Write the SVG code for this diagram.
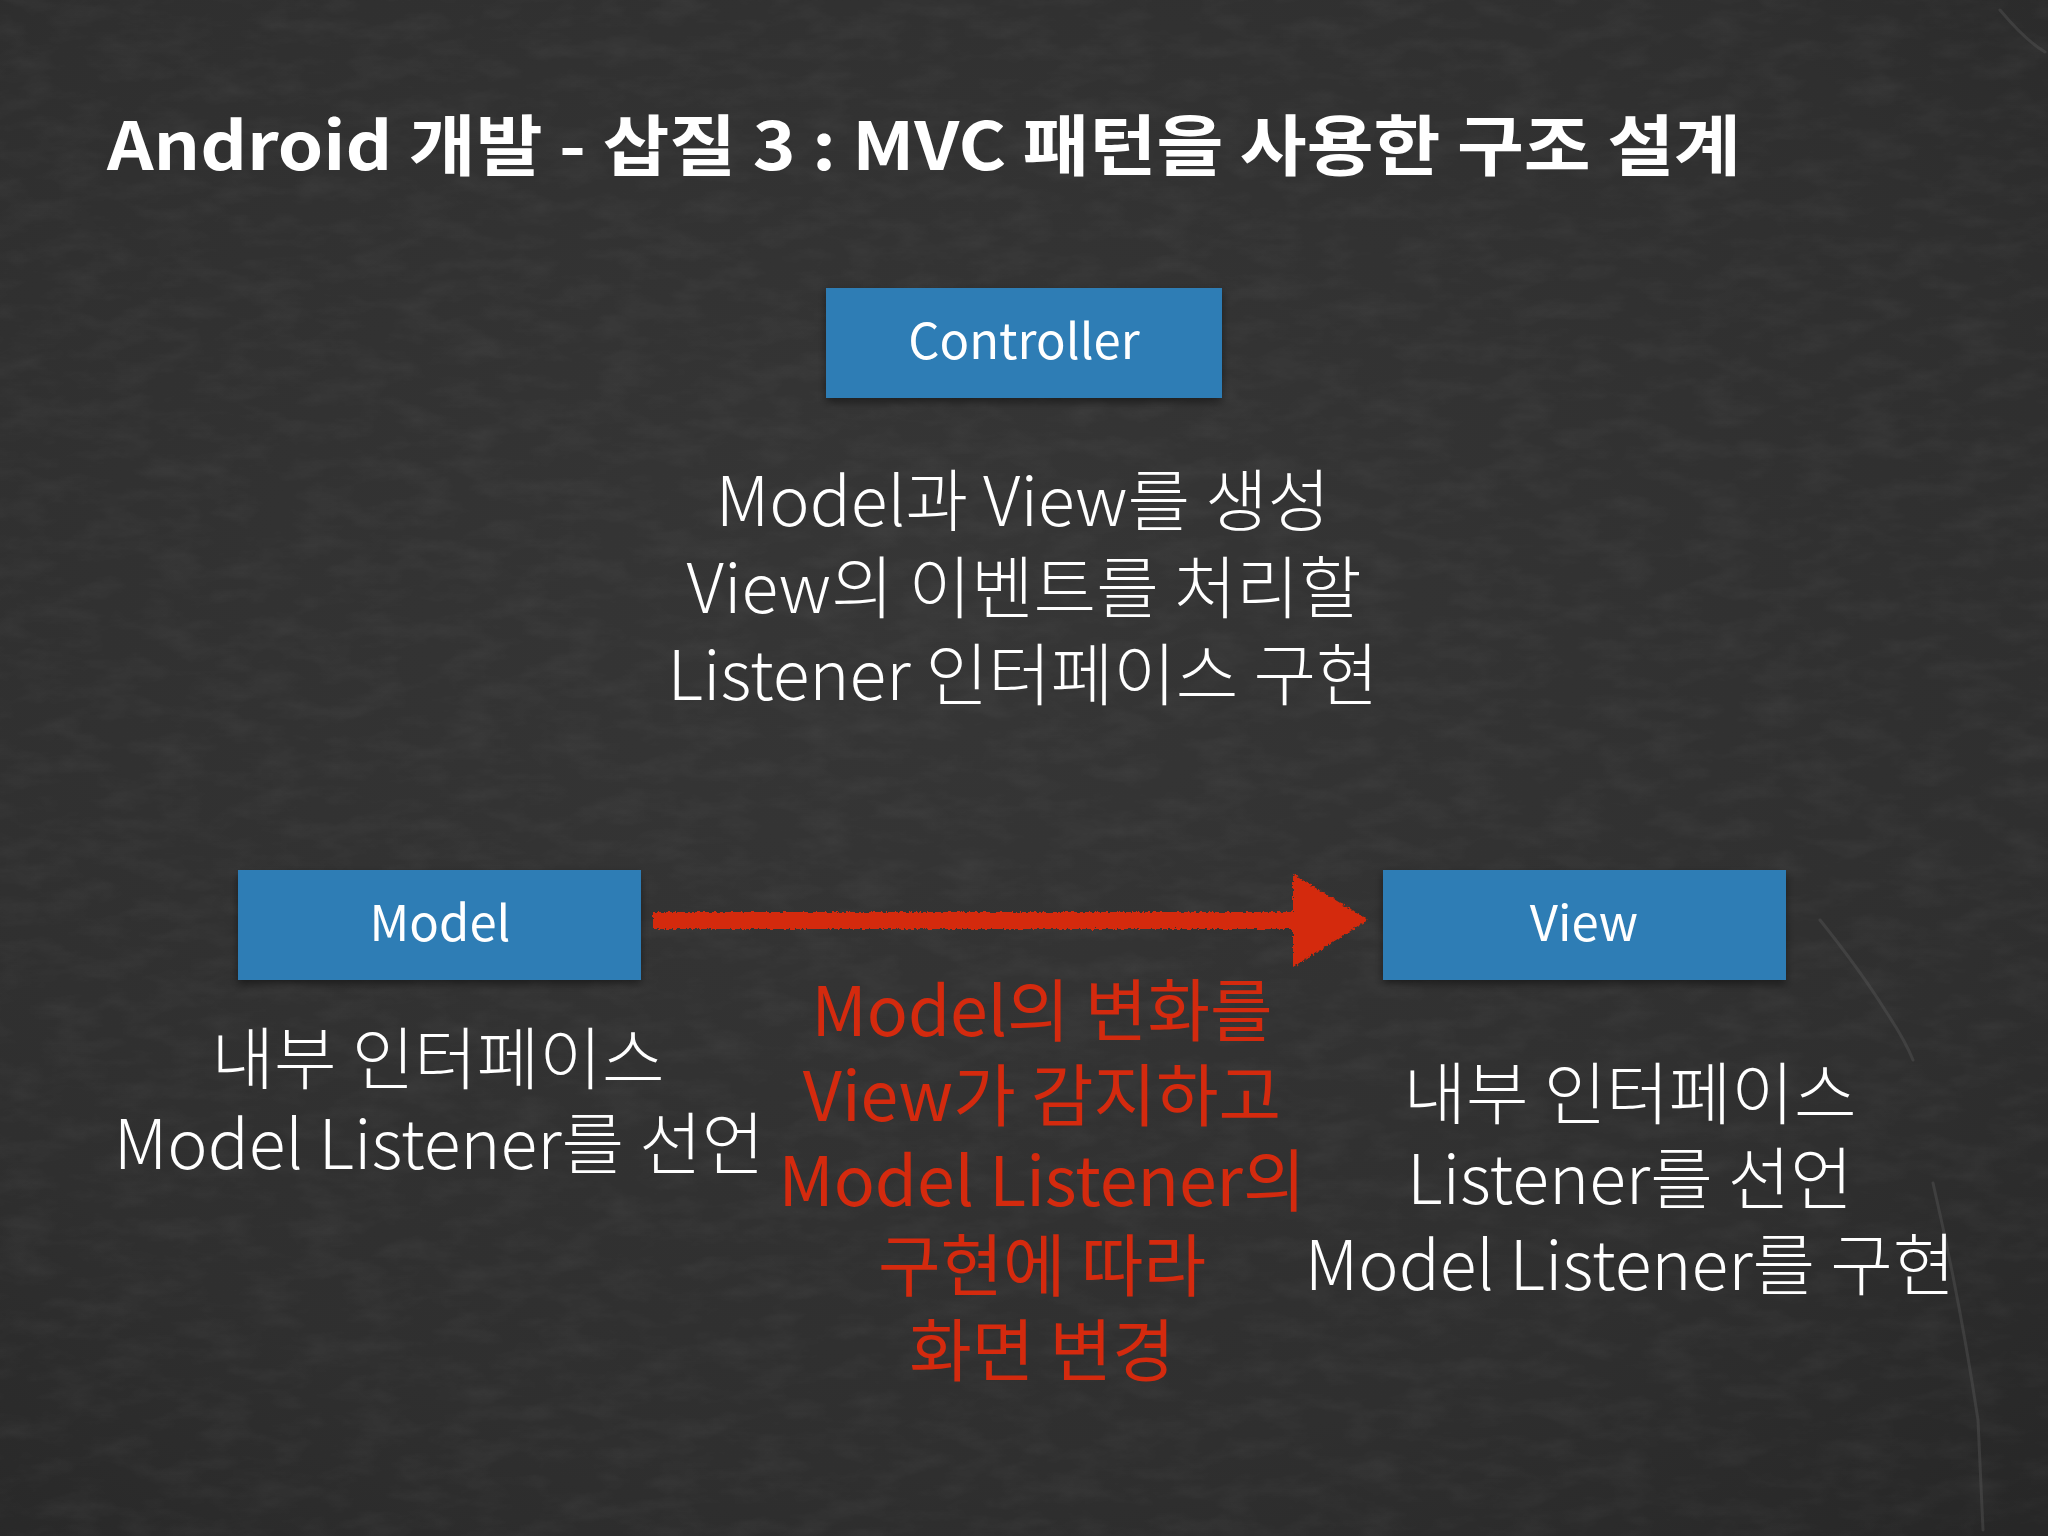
<svg xmlns="http://www.w3.org/2000/svg" width="2048" height="1536" viewBox="0 0 2048 1536">
  <defs>
    <radialGradient id="bgGrad" cx="0.45" cy="0.4" r="0.8">
      <stop offset="0" stop-color="#363636"/>
      <stop offset="0.7" stop-color="#2f2f2f"/>
      <stop offset="1" stop-color="#272727"/>
    </radialGradient>
    <filter id="noise" x="0" y="0" width="100%" height="100%">
      <feTurbulence type="fractalNoise" baseFrequency="0.02 0.05" numOctaves="4" seed="7" result="t"/>
      <feColorMatrix in="t" type="matrix" values="0 0 0 0 1  0 0 0 0 1  0 0 0 0 1  0 0 0 0.5 -0.2" />
    </filter>
    <filter id="chalk" x="-5%" y="-20%" width="110%" height="140%">
      <feTurbulence type="fractalNoise" baseFrequency="0.35" numOctaves="2" seed="3" result="n"/>
      <feDisplacementMap in="SourceGraphic" in2="n" scale="5" xChannelSelector="R" yChannelSelector="G"/>
    </filter>
    <filter id="shadow" x="-5%" y="-10%" width="110%" height="130%">
      <feDropShadow dx="0" dy="4" stdDeviation="4" flood-color="#000" flood-opacity="0.45"/>
    </filter>
    <style>
      .box { fill: #2e7db5; filter: url(#shadow); }
      .boxlbl { font-family: "Noto Sans CJK KR", "Noto Sans", sans-serif; font-size: 49px; fill: #ffffff; text-anchor: middle; }
      .wt { font-family: "Noto Sans CJK KR", "Noto Sans", sans-serif; font-size: 68px; font-weight: 300; fill: #ffffff; text-anchor: middle; }
      .rt { font-family: "Noto Sans CJK KR", "Noto Sans", sans-serif; font-size: 68px; font-weight: 400; fill: #d42a0e; text-anchor: middle; }
      .title { font-family: "Noto Sans CJK KR", "Noto Sans", sans-serif; font-size: 66px; font-weight: 700; fill: #ffffff; }
    </style>
  </defs>

  <rect width="2048" height="1536" fill="url(#bgGrad)"/>
  <rect width="2048" height="1536" filter="url(#noise)" opacity="0.15"/>
  <g stroke="#5a5a5a" stroke-width="3" fill="none" opacity="0.4" stroke-linecap="round">
    <path d="M1820 920 Q1860 970 1885 1010 Q1905 1040 1913 1060"/>
    <path d="M1933 1183 Q1960 1300 1978 1420 L1983 1530"/>
    <path d="M2000 10 Q2025 40 2045 52"/>
  </g>

  <text class="title" x="107" y="170" textLength="1634" lengthAdjust="spacingAndGlyphs">Android 개발 - 삽질 3 : MVC 패턴을 사용한 구조 설계</text>

  <g id="connectors">
    <g filter="url(#chalk)" fill="#d42a0c">
      <rect x="653" y="912" width="645" height="17"/>
      <polygon points="1293,874 1368,920 1293,967"/>
    </g>
  </g>

  <g id="controller">
    <rect class="box" x="826" y="288" width="396" height="110"/>
    <text class="boxlbl" x="1024" y="359">Controller</text>
  </g>

  <g id="controller-desc">
    <text class="wt" x="1023" y="526">Model과 View를 생성</text>
    <text class="wt" x="1024" y="613">View의 이벤트를 처리할</text>
    <text class="wt" x="1023" y="700">Listener 인터페이스 구현</text>
  </g>

  <g id="model">
    <rect class="box" x="238" y="870" width="403" height="110"/>
    <text class="boxlbl" x="440" y="941">Model</text>
  </g>

  <g id="model-desc">
    <text class="wt" x="438" y="1084">내부 인터페이스</text>
    <text class="wt" x="439" y="1169">Model Listener를 선언</text>
  </g>

  <g id="view">
    <rect class="box" x="1383" y="870" width="403" height="110"/>
    <text class="boxlbl" x="1584" y="941">View</text>
  </g>

  <g id="view-desc">
    <text class="wt" x="1630" y="1119">내부 인터페이스</text>
    <text class="wt" x="1630" y="1204">Listener를 선언</text>
    <text class="wt" x="1630" y="1290">Model Listener를 구현</text>
  </g>

  <g id="arrow-label">
    <text class="rt" x="1042" y="1036">Model의 변화를</text>
    <text class="rt" x="1042" y="1121">View가 감지하고</text>
    <text class="rt" x="1042" y="1206">Model Listener의</text>
    <text class="rt" x="1042" y="1291">구현에 따라</text>
    <text class="rt" x="1042" y="1376">화면 변경</text>
  </g>
</svg>
